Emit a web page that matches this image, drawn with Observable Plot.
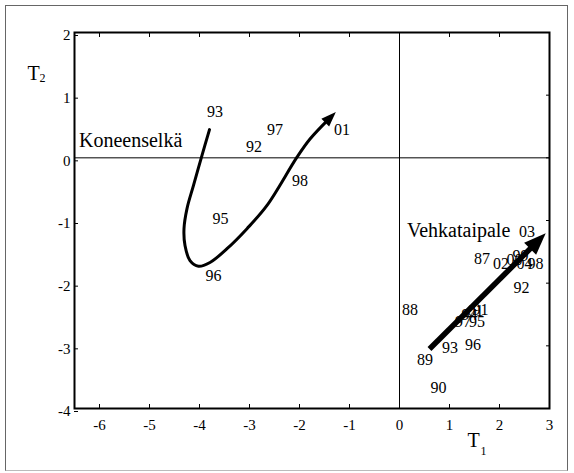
<!DOCTYPE html>
<html><head><meta charset="utf-8">
<script src="https://cdn.jsdelivr.net/npm/d3@7"></script>
<script src="https://cdn.jsdelivr.net/npm/@observablehq/plot@0.6"></script>
<style>
html,body{margin:0;padding:0;background:#fff;}
#wrap{position:relative;width:574px;height:473px;}
#box{position:absolute;left:5px;top:5px;width:563px;height:466px;border:1px solid #666;border-bottom-color:#bbb;box-sizing:border-box;pointer-events:none}
</style></head><body><div id="wrap"><div id="box"></div></div>
<script>
// Tick values
const xTicks = [-6, -5, -4, -3, -2, -1, 0, 1, 2, 3];
const yTicks = [-4, -3, -2, -1, 0, 1, 2];

// Koneenselkä trajectory (T1, T2)
const koneX = [-3.80, -3.95, -4.12, -4.25, -4.31, -4.29, -4.19, -4.02, -3.79, -3.45, -3.05, -2.65, -2.05, -1.79, -1.40];
const koneY = [0.45, 0.04, -0.44, -0.81, -1.13, -1.40, -1.64, -1.73, -1.67, -1.45, -1.13, -0.76, 0.01, 0.30, 0.63];

// Koneenselkä year labels
const koneYears = ["93", "97", "92", "01", "98", "95", "96"];
const koneLabX = [-3.69, -2.49, -2.91, -1.15, -1.99, -3.58, -3.72];
const koneLabY = [0.73, 0.45, 0.18, 0.44, -0.36, -0.97, -1.88];

// Vehkataipale trend arrow
const vehkX = [0.6, 2.74];
const vehkY = [-3.05, -1.35];

// Vehkataipale year labels
const vehkYears = ["87", "02", "00", "99", "04", "98", "03", "92", "88", "94", "01", "91", "97", "95", "93", "96", "89", "90"];
const vehkLabX = [1.65, 2.03, 2.30, 2.42, 2.50, 2.72, 2.55, 2.44, 0.21, 1.40, 1.52, 1.62, 1.27, 1.55, 1.01, 1.47, 0.51, 0.78];
const vehkLabY = [-1.62, -1.69, -1.63, -1.56, -1.69, -1.69, -1.18, -2.08, -2.42, -2.50, -2.45, -2.42, -2.62, -2.62, -3.03, -2.98, -3.23, -3.67];

// Site names
const siteNames = ["Koneenselkä", "Vehkataipale"];
const siteX = [-6.41, 0.15];
const siteY = [0.27, -1.165];

const konePath = koneX.map((x, i) => ({x, y: koneY[i]}));
const vehkPath = vehkX.map((x, i) => ({x, y: vehkY[i]}));
const koneLabels = koneYears.map((t, i) => ({t, x: koneLabX[i], y: koneLabY[i]}));
const vehkLabels = vehkYears.map((t, i) => ({t, x: vehkLabX[i], y: vehkLabY[i]}));
const sites = siteNames.map((t, i) => ({t, x: siteX[i], y: siteY[i]}));

const fmt = d => String(d);
const none = () => "";
const serif = "Liberation Serif";

const chart = Plot.plot({
  width: 574, height: 473,
  marginLeft: 74, marginRight: 25, marginTop: 32, marginBottom: 65,
  x: {domain: [-6.5, 3], label: null},
  y: {domain: [-4, 2], label: null},
  style: {fontFamily: serif, fontSize: "15px", color: "black", background: "transparent"},
  marks: [
    Plot.ruleX([0], {stroke: "black", strokeWidth: 1}),
    Plot.ruleY([0], {stroke: "black", strokeWidth: 1}),
    Plot.axisX(xTicks, {anchor: "bottom", tickSize: -4, tickPadding: 15.25, tickFormat: fmt, fontSize: 15, fontFamily: serif, strokeWidth: 1}),
    Plot.axisX(xTicks, {anchor: "top", tickSize: -4, tickFormat: none, strokeWidth: 1}),
    Plot.axisY(yTicks, {anchor: "left", tickSize: -4, tickPadding: 8, tickFormat: fmt, fontSize: 15, fontFamily: serif, dy: 3, strokeWidth: 1}),
    Plot.axisY(yTicks, {anchor: "right", tickSize: -4, tickFormat: none, strokeWidth: 1}),
    Plot.frame({stroke: "black", strokeWidth: 2}),
    Plot.line(konePath, {x: "x", y: "y", curve: "catmull-rom", stroke: "black", strokeWidth: 3}),
    Plot.line(vehkPath, {x: "x", y: "y", stroke: "black", strokeWidth: 5.5, strokeLinecap: "butt"}),
    Plot.text(koneLabels, {x: "x", y: "y", text: "t", fontSize: 16, fontFamily: serif, fill: "black"}),
    Plot.text(vehkLabels, {x: "x", y: "y", text: "t", fontSize: 16, fontFamily: serif, fill: "black"}),
    Plot.text(sites, {x: "x", y: "y", text: "t", fontSize: 20, fontFamily: serif, textAnchor: "start", fill: "black"}),
    Plot.text(["T"], {frameAnchor: "bottom-right", text: d => d, dx: -82, dy: 38.6, textAnchor: "start", fontSize: 20, fontFamily: serif, fill: "black"}),
    Plot.text(["1"], {frameAnchor: "bottom-right", text: d => d, dx: -69, dy: 46.2, textAnchor: "start", fontSize: 12, fontFamily: serif, fill: "black"}),
    Plot.text(["T"], {frameAnchor: "top-left", text: d => d, dx: -47, dy: 33.6, textAnchor: "start", fontSize: 20, fontFamily: serif, fill: "black"}),
    Plot.text(["2"], {frameAnchor: "top-left", text: d => d, dx: -35, dy: 41.2, textAnchor: "start", fontSize: 12, fontFamily: serif, fill: "black"})
  ]
});

const svg = d3.select(chart);
svg.attr("font-family", serif).style("font-family", serif);
svg.selectAll("text").attr("font-family", serif).style("font-family", serif);
const defs = svg.append("defs");
function addHead(id, d) {
  defs.append("marker")
    .attr("id", id)
    .attr("viewBox", "-30 -30 60 60")
    .attr("markerWidth", 60).attr("markerHeight", 60)
    .attr("refX", 0).attr("refY", 0)
    .attr("markerUnits", "userSpaceOnUse")
    .attr("orient", "auto")
    .style("overflow", "visible")
    .append("path").attr("d", d).attr("fill", "black");
}
addHead("headKone", "M-6,-5.5L9,0L-6,5.5Z");
addHead("headVehk", "M-9,-8.5L13,0L-9,8.5Z");
const lineGroups = svg.selectAll('g[aria-label="line"]').nodes();
d3.select(lineGroups[0]).selectAll("path").attr("marker-end", "url(#headKone)");
d3.select(lineGroups[1]).selectAll("path").attr("marker-end", "url(#headVehk)");

document.getElementById("wrap").prepend(chart);
</script>
</body></html>
